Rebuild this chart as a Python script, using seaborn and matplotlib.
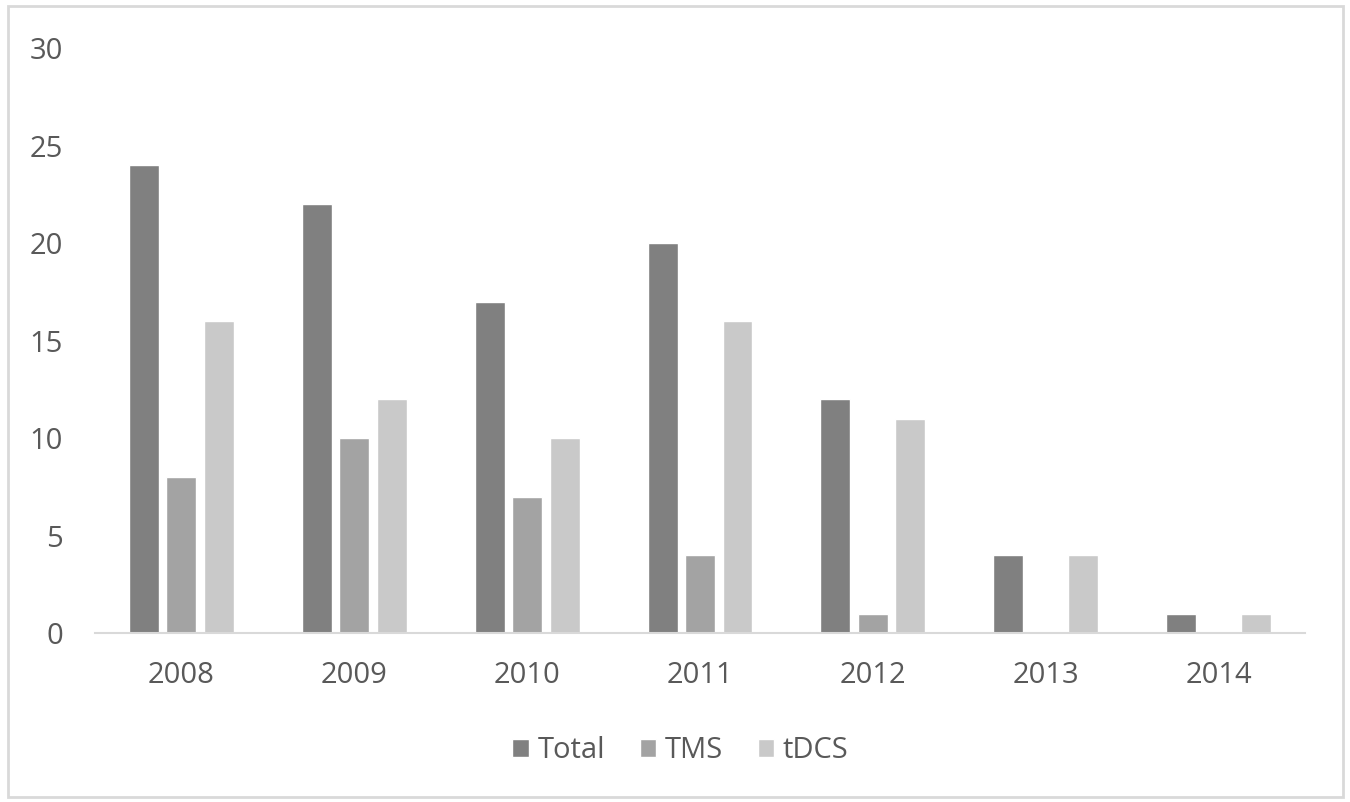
import matplotlib
matplotlib.use("Agg")
import matplotlib.pyplot as plt
import matplotlib.patches as mpatches
import seaborn as sns
import pandas as pd

years = ["2008", "2009", "2010", "2011", "2012", "2013", "2014"]
series = ["Total", "TMS", "tDCS"]
total = [24, 22, 17, 20, 12, 4, 1]
tms = [8, 10, 7, 4, 1, 0, 0]
tdcs = [16, 12, 10, 16, 11, 4, 1]
y_ticks = [0, 5, 10, 15, 20, 25, 30]

colors = ["#808080", "#a3a3a3", "#c9c9c9"]
text_color = "#595959"

df = pd.DataFrame({
    "year": years * 3,
    "series": [series[0]] * 7 + [series[1]] * 7 + [series[2]] * 7,
    "value": total + tms + tdcs,
})

sns.set_theme(style="white")
plt.rcParams["font.family"] = ["Open Sans", "DejaVu Sans"]

fig = plt.figure(figsize=(13.5, 8.02), dpi=100)
ax = fig.add_axes([0.0704, 0.2107, 0.8963, 0.7294])

sns.barplot(data=df, x="year", y="value", hue="series", order=years,
            hue_order=series, palette=colors, width=0.65, gap=0.2,
            saturation=1, legend=False, ax=ax, errorbar=None)

ax.set_ylim(0, 30)
ax.set_xlim(-0.5, len(years) - 0.5)
ax.set_yticks(y_ticks)
ax.set_yticklabels([str(t) for t in y_ticks])
ax.set_xlabel("")
ax.set_ylabel("")
ax.tick_params(axis="both", length=0, labelsize=21, colors=text_color)
ax.tick_params(axis="y", pad=23)
ax.tick_params(axis="x", pad=20)
for s in ["top", "right", "left"]:
    ax.spines[s].set_visible(False)
ax.spines["bottom"].set_color("#d9d9d9")
ax.spines["bottom"].set_linewidth(1.5)

handles = [mpatches.Patch(facecolor=c, label=l) for c, l in zip(colors, series)]
fig.legend(handles=handles, loc="center", bbox_to_anchor=(0.504, 0.064),
           ncol=3, frameon=False, fontsize=21, labelcolor=text_color,
           handlelength=0.55, handleheight=0.55, handletextpad=0.3,
           columnspacing=1.2)

fig.add_artist(mpatches.Rectangle((0.006, 0.006), 0.989, 0.986,
                                  transform=fig.transFigure, fill=False,
                                  edgecolor="#d9d9d9", linewidth=2))

fig.savefig("out.png", dpi=100)
